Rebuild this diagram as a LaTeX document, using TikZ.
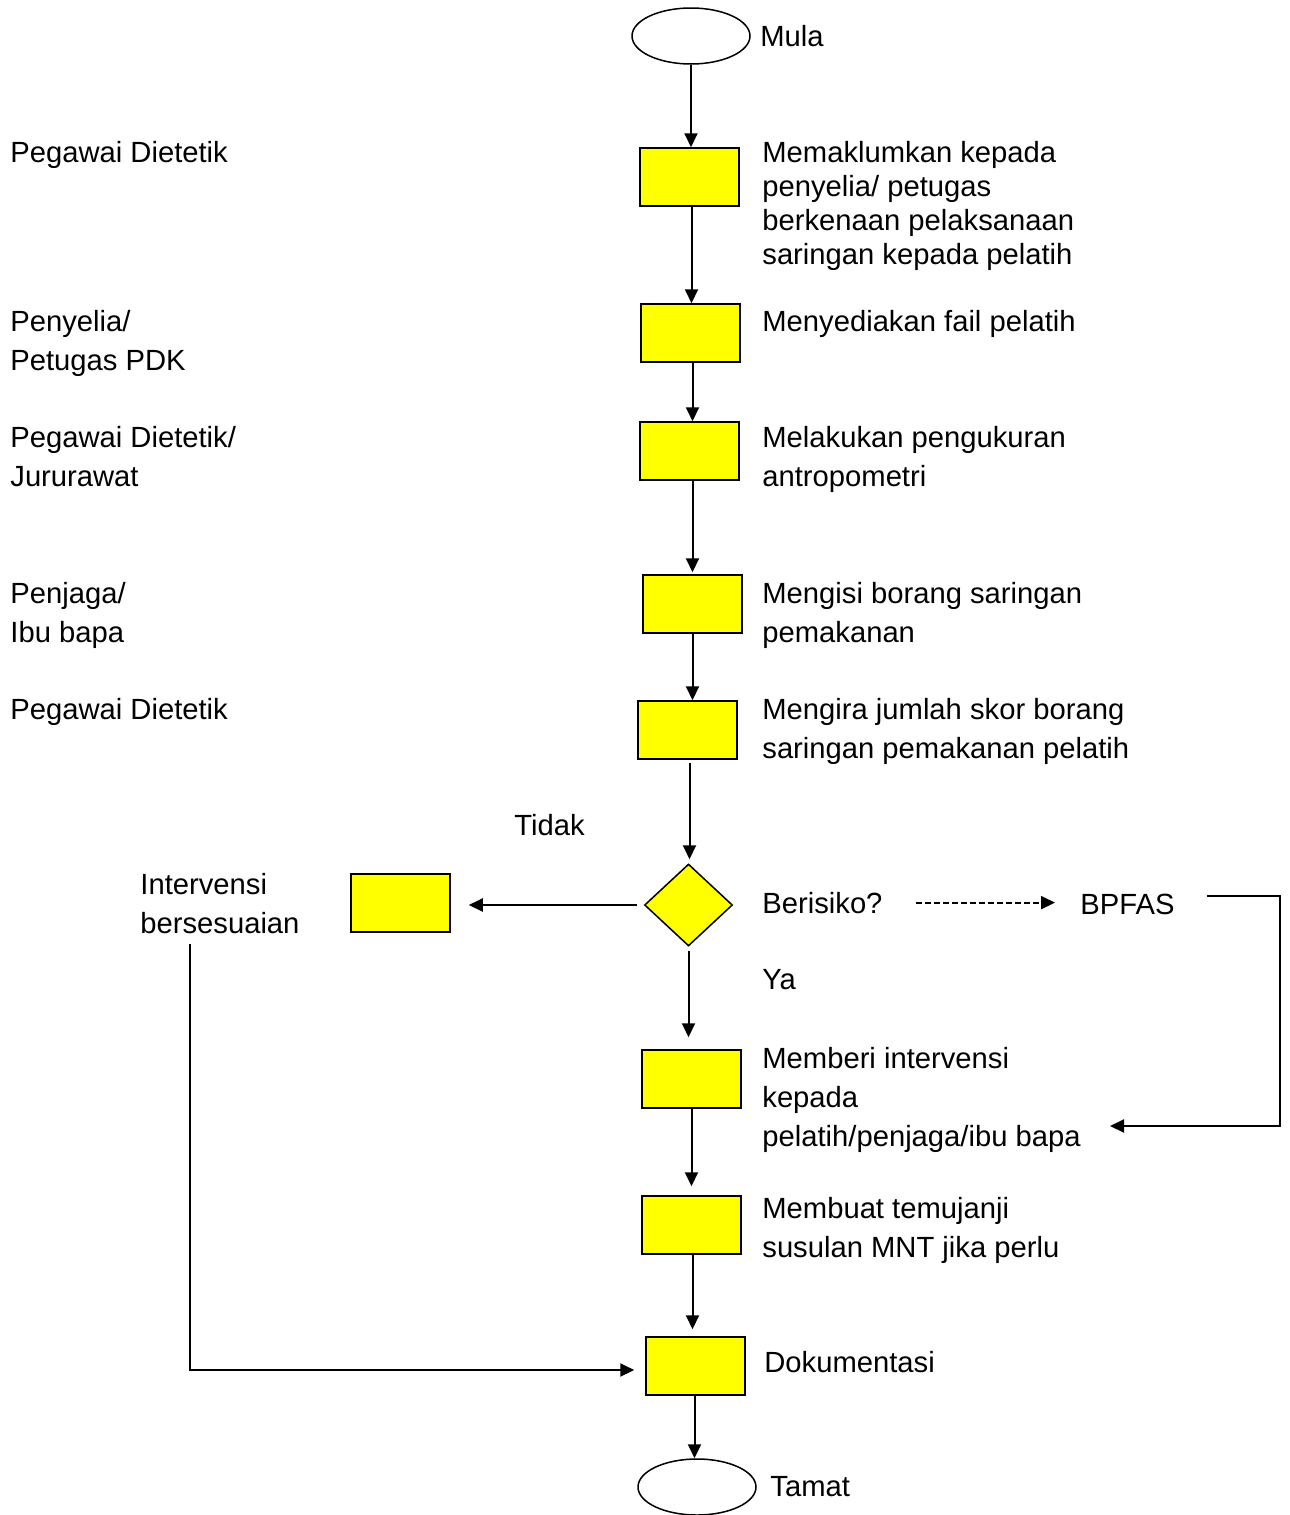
\documentclass[tikz,border=0pt]{standalone}
\usepackage{fontspec}
\setmainfont{Liberation Sans}
\usetikzlibrary{arrows.meta,shapes.geometric}
\definecolor{stepfill}{HTML}{FFFF00}
\definecolor{ink}{HTML}{000000}
\tikzset{
  >={Triangle[length=7pt,width=6.5pt]},
  every node/.style={text=ink},
  txt/.style={anchor=north west,inner sep=0pt,align=left,yshift=0.5pt,font=\fontsize{14.6}{19.5}\selectfont},
  tighttxt/.style={txt,font=\fontsize{14.6}{17}\selectfont},
  stepbox/.style={draw=ink,line width=0.75pt,fill=stepfill,minimum width=49.5pt,minimum height=29pt,inner sep=0pt},
  decision/.style={diamond,draw=ink,line width=0.75pt,fill=stepfill,minimum width=44pt,minimum height=41pt,inner sep=0pt},
  terminal/.style={ellipse,draw=ink,line width=0.75pt,fill=white,minimum width=59pt,minimum height=28pt,inner sep=0pt},
  arrow/.style={->,line width=1pt,draw=ink},
  dasharrow/.style={->,line width=1pt,draw=ink,dash pattern=on 3pt off 1.5pt},
}

\begin{document}
\begin{tikzpicture}[x=0.5pt,y=-0.5pt]
\useasboundingbox (0,0) rectangle (1290,1515);

% main column
\node[terminal] (mula) at (691,36) {};
\node[stepbox] (s1) at (689.5,177) {};
\node[stepbox] (s2) at (690.5,333) {};
\node[stepbox] (s3) at (689.5,451) {};
\node[stepbox] (s4) at (692.5,604) {};
\node[stepbox] (s5) at (687.5,730) {};
\node[decision] (dec) at (688.5,905) {};
\node[stepbox] (s6) at (691.5,1079) {};
\node[stepbox] (s7) at (691.5,1225) {};
\node[stepbox] (doc) at (695.5,1366) {};
\node[terminal] (tamat) at (697,1487) {};
\node[stepbox] (alt) at (400.5,903) {};

% right: step texts
\node[txt] (tmula) at (760,25.5) {Mula};
\node[tighttxt] (r1) at (762,141.5) {Memaklumkan kepada\\penyelia/ petugas\\berkenaan pelaksanaan\\saringan kepada pelatih};
\node[txt] (r2) at (762,310.5) {Menyediakan fail pelatih};
\node[txt] (r3) at (762,426.5) {Melakukan pengukuran\\antropometri};
\node[txt] (r4) at (762,582.5) {Mengisi borang saringan\\pemakanan};
\node[txt] (r5) at (762,698.5) {Mengira jumlah skor borang\\saringan pemakanan pelatih};
\node[txt] (beri) at (762,892.5) {Berisiko?};
\node[txt] (bpfas) at (1080,894.5) {BPFAS};
\node[txt] (ya) at (762,969.5) {Ya};
\node[txt] (tidak) at (514,814.5) {Tidak};
\node[txt] (r6) at (762,1047.5) {Memberi intervensi\\kepada\\pelatih/penjaga/ibu bapa};
\node[txt] (r7) at (762,1197.5) {Membuat temujanji\\susulan MNT jika perlu};
\node[txt] (r8) at (764,1351.5) {Dokumentasi};
\node[txt] (ttamat) at (770,1476.5) {Tamat};

% left: who does it
\node[txt] (p1) at (10,141.5) {Pegawai Dietetik};
\node[txt] (p2) at (10,310.5) {Penyelia/\\Petugas PDK};
\node[txt] (p3) at (10,426.5) {Pegawai Dietetik/\\Jururawat};
\node[txt] (p4) at (10,582.5) {Penjaga/\\Ibu bapa};
\node[txt] (p5) at (10,698.5) {Pegawai Dietetik};
\node[txt] (intv) at (140,873.5) {Intervensi\\bersesuaian};

\coordinate (bcorner) at (1280,897);
\coordinate (bret) at (1110,1126);

\draw[arrow] (mula) -- (mula.south |- s1.north);
\draw[arrow] ([xshift=1pt]s1.south) -- ([xshift=1pt]s1.south |- s2.north);
\draw[arrow] ([xshift=1pt]s2.south) -- ([xshift=1pt]s2.south |- s3.north);
\draw[arrow,shorten >=1pt] ([xshift=1.5pt]s3.south) -- ([xshift=1.5pt]s3.south |- s4.north);
\draw[arrow] (s4.south) -- (s4.south |- s5.north);
\draw[arrow,shorten <=1.5pt,shorten >=2pt] ([xshift=1pt]s5.south) -- ([xshift=1pt]s5.south |- dec.north);
\draw[arrow,shorten <=2pt,shorten >=6pt] (dec) -- (dec.south |- s6.north);
\draw[arrow,shorten >=4.5pt] (s6) -- (s6.south |- s7.north);
\draw[arrow,shorten >=3.5pt] ([xshift=0.5pt]s7.south) -- ([xshift=0.5pt]s7.south |- doc.north);
\draw[arrow] ([xshift=-0.5pt]doc.south) -- ([xshift=-0.5pt]doc.south |- tamat.north);
\draw[arrow,shorten <=3.5pt,shorten >=9pt] (dec.west) -- (dec.west -| alt.east);
\draw[arrow,shorten >=5.5pt] ([xshift=-15pt,yshift=-5pt]intv.south) |- ([yshift=-2pt]doc.west);
\draw[dasharrow,shorten <=16.5pt,shorten >=12.5pt] (beri.east) -- (beri.east -| bpfas.west);
\draw[arrow] ([xshift=16pt,yshift=4pt]bpfas.east) -| (bcorner) |- (bret);

\end{tikzpicture}
\end{document}
